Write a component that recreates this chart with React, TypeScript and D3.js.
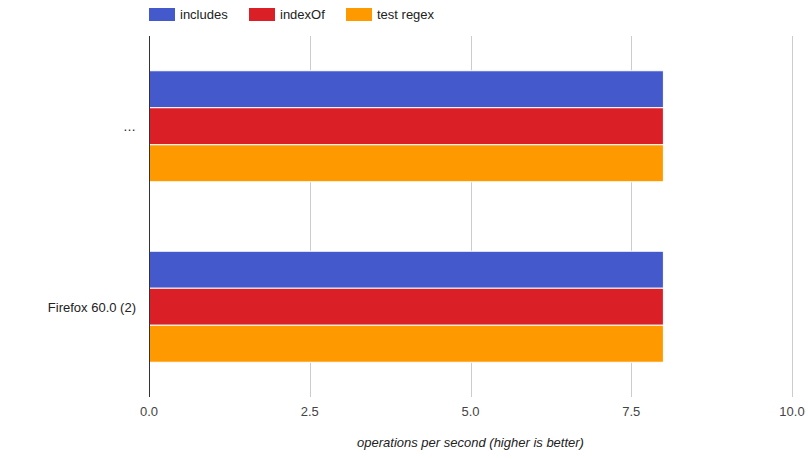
import React from "react";
import * as d3 from "d3";

const categories = ["…", "Firefox 60.0 (2)"];
const seriesNames = ["includes", "indexOf", "test regex"];
const seriesColors = ["#4459cc", "#db1f26", "#ff9900"];
const includesValues = [8, 8];
const indexOfValues = [8, 8];
const testRegexValues = [8, 8];
const xTicks = [0, 2.5, 5, 7.5, 10];
const xTitle = "operations per second (higher is better)";

const W = 808;
const H = 459;
const left = 149;
const right = 792;
const top = 36;
const bottom = 397;
const font = "Arial, 'Liberation Sans', sans-serif";

export default function App() {
  const series = [includesValues, indexOfValues, testRegexValues];
  const x = d3.scaleLinear().domain([0, 10]).range([left, right]);
  const y = d3
    .scaleBand<string>()
    .domain(categories)
    .range([top, bottom])
    .paddingInner(0.385)
    .paddingOuter(0.1925);
  const inner = d3
    .scaleBand<string>()
    .domain(seriesNames)
    .range([0, y.bandwidth()]);

  const legendX = [149, 249, 346];

  return (
    <svg
      width={W}
      height={H}
      style={{ position: "absolute", left: 0, top: 0, background: "#fff" }}
      fontFamily={font}
    >
      <rect x={0} y={0} width={W} height={H} fill="#fff" />
      {/* legend */}
      {seriesNames.map((s, i) => (
        <g key={s}>
          <rect x={legendX[i]} y={8} width={26} height={13} fill={seriesColors[i]} />
          <text x={legendX[i] + 31} y={19} fontSize={13} fill="#222">
            {s}
          </text>
        </g>
      ))}
      {/* gridlines */}
      {xTicks.slice(1).map((t) => (
        <line
          key={t}
          x1={Math.round(x(t)) + 0.5}
          x2={Math.round(x(t)) + 0.5}
          y1={top}
          y2={bottom}
          stroke="#cccccc"
          strokeWidth={1}
        />
      ))}
      {/* bars */}
      {categories.map((c, ci) =>
        seriesNames.map((s, si) => (
          <rect
            key={c + s}
            x={x(0)}
            y={(y(c) ?? 0) + (inner(s) ?? 0)}
            width={x(series[si][ci]) - x(0)}
            height={inner.bandwidth()}
            fill={seriesColors[si]}
            stroke="#ffffff"
            strokeWidth={1}
          />
        ))
      )}
      {/* baseline */}
      <line x1={left + 0.5} x2={left + 0.5} y1={top} y2={bottom} stroke="#333" strokeWidth={1} />
      {/* category labels */}
      {categories.map((c) => (
        <text
          key={c}
          x={left - 13}
          y={(y(c) ?? 0) + y.bandwidth() / 2 + 5}
          textAnchor="end"
          fontSize={13}
          fill="#222"
        >
          {c}
        </text>
      ))}
      {/* tick labels */}
      {xTicks.map((t) => (
        <text
          key={t}
          x={x(t)}
          y={416}
          textAnchor="middle"
          fontSize={13}
          fill="#444"
        >
          {t.toFixed(1)}
        </text>
      ))}
      <text
        x={(left + right) / 2}
        y={447}
        textAnchor="middle"
        fontSize={13}
        fontStyle="italic"
        fill="#222"
      >
        {xTitle}
      </text>
    </svg>
  );
}
